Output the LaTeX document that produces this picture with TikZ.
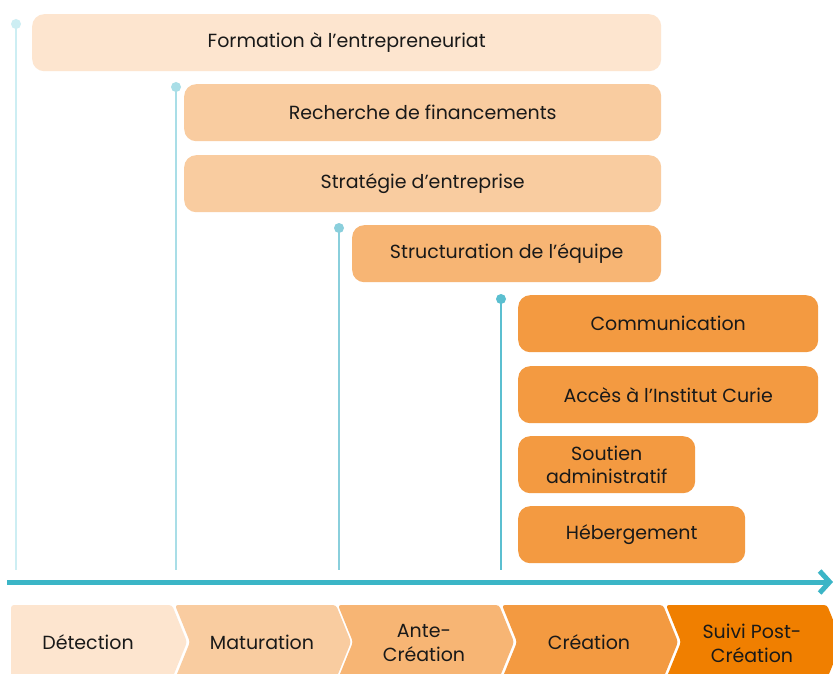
\documentclass[tikz,border=0pt]{standalone}
\usepackage{fontspec}
\setmainfont{Poppins}
\usetikzlibrary{arrows.meta}
\definecolor{peachA}{HTML}{FDE5CF}
\definecolor{peachB}{HTML}{F9CCA0}
\definecolor{peachC}{HTML}{F7B574}
\definecolor{orangeD}{HTML}{F39A41}
\definecolor{orangeE}{HTML}{F07F00}
\definecolor{tealA}{HTML}{CDEEF3}
\definecolor{tealB}{HTML}{A9DEE7}
\definecolor{tealC}{HTML}{8ACFDC}
\definecolor{tealD}{HTML}{5BBFD0}
\definecolor{axiscol}{HTML}{3BB5C6}
\tikzset{
  bar/.style={fill=#1,rounded corners=12pt,anchor=north west,inner sep=0pt,
    align=center,font=\fontsize{19}{23}\selectfont,text=black!90},
  stem/.style={line width=1.5pt,draw=#1},
  stemdot/.style={fill=#1,circle,inner sep=0pt,minimum size=10pt},
  phase/.style={fill=#1,draw=none,rounded corners=3pt},
  phasetext/.style={align=center,font=\fontsize{19}{24}\selectfont,text=black!90},
}
\begin{document}
\begin{tikzpicture}[x=1pt,y=-1pt]
	\useasboundingbox[fill=white] (0,0) rectangle (833,674);
	% stems
	\coordinate (s1top) at (16,24);   \coordinate (s1bot) at (16,570);
	\coordinate (s2top) at (176,87);  \coordinate (s2bot) at (176,570);
	\coordinate (s3top) at (339,228); \coordinate (s3bot) at (339,570);
	\coordinate (s4top) at (501,299); \coordinate (s4bot) at (501,570);
	\draw[stem=tealA] (s1top) -- (s1bot);
	\draw[stem=tealB] (s2top) -- (s2bot);
	\draw[stem=tealC] (s3top) -- (s3bot);
	\draw[stem=tealD] (s4top) -- (s4bot);
	\node[stemdot=tealA] (d1) at (s1top) {};
	\node[stemdot=tealB] (d2) at (s2top) {};
	\node[stemdot=tealC] (d3) at (s3top) {};
	\node[stemdot=tealD] (d4) at (s4top) {};
	% bars
	\node[bar=peachA,minimum width=629pt,minimum height=57pt] (formation) at (32,14) {Formation à l’entrepreneuriat};
	\node[bar=peachB,minimum width=477pt,minimum height=57pt] (recherche) at (184,84) {Recherche de financements};
	\node[bar=peachB,minimum width=477pt,minimum height=57pt] (strategie) at (184,155) {Stratégie d’entreprise};
	\node[bar=peachC,minimum width=309pt,minimum height=57pt] (equipe) at (352,225) {Structuration de l’équipe};
	\node[bar=orangeD,minimum width=300pt,minimum height=57pt] (comm) at (518,295) {Communication};
	\node[bar=orangeD,minimum width=300pt,minimum height=57pt] (curie) at (518,366) {Accès à l’Institut Curie};
	\node[bar=orangeD,minimum width=177pt,minimum height=57pt] (soutien) at (518,436) {Soutien\\administratif};
	\node[bar=orangeD,minimum width=227pt,minimum height=57pt] (heberg) at (518,506) {Hébergement};
	% time axis
	\coordinate (axstart) at (7,582);
	\coordinate (axend) at (833,582);
	\draw[line width=5pt,draw=axiscol,-{Straight Barb[length=10pt,width=22pt,line width=5pt]}] (axstart) -- (axend);
	% phases
	\fill[phase=peachA] (11,605) -- (172,605) -- (187,642) -- (172,679) -- (11,679) -- cycle;
	\foreach \s/\c in {175/peachB,338/peachC,502/orangeD,666/orangeE}
		\fill[phase=\c] (\s,605) -- (\s+161,605) -- (\s+176,642) -- (\s+161,679) -- (\s,679) -- (\s+15,642) -- cycle;
	\node[phasetext] (detection) at (88,642) {Détection};
	\node[phasetext] (maturation) at (262,642) {Maturation};
	\node[phasetext] (ante) at (424,643) {Ante-\\Création};
	\node[phasetext] (creation) at (589,642) {Création};
	\node[phasetext] (suivi) at (752,643) {Suivi Post-\\Création};
\end{tikzpicture}
\end{document}
